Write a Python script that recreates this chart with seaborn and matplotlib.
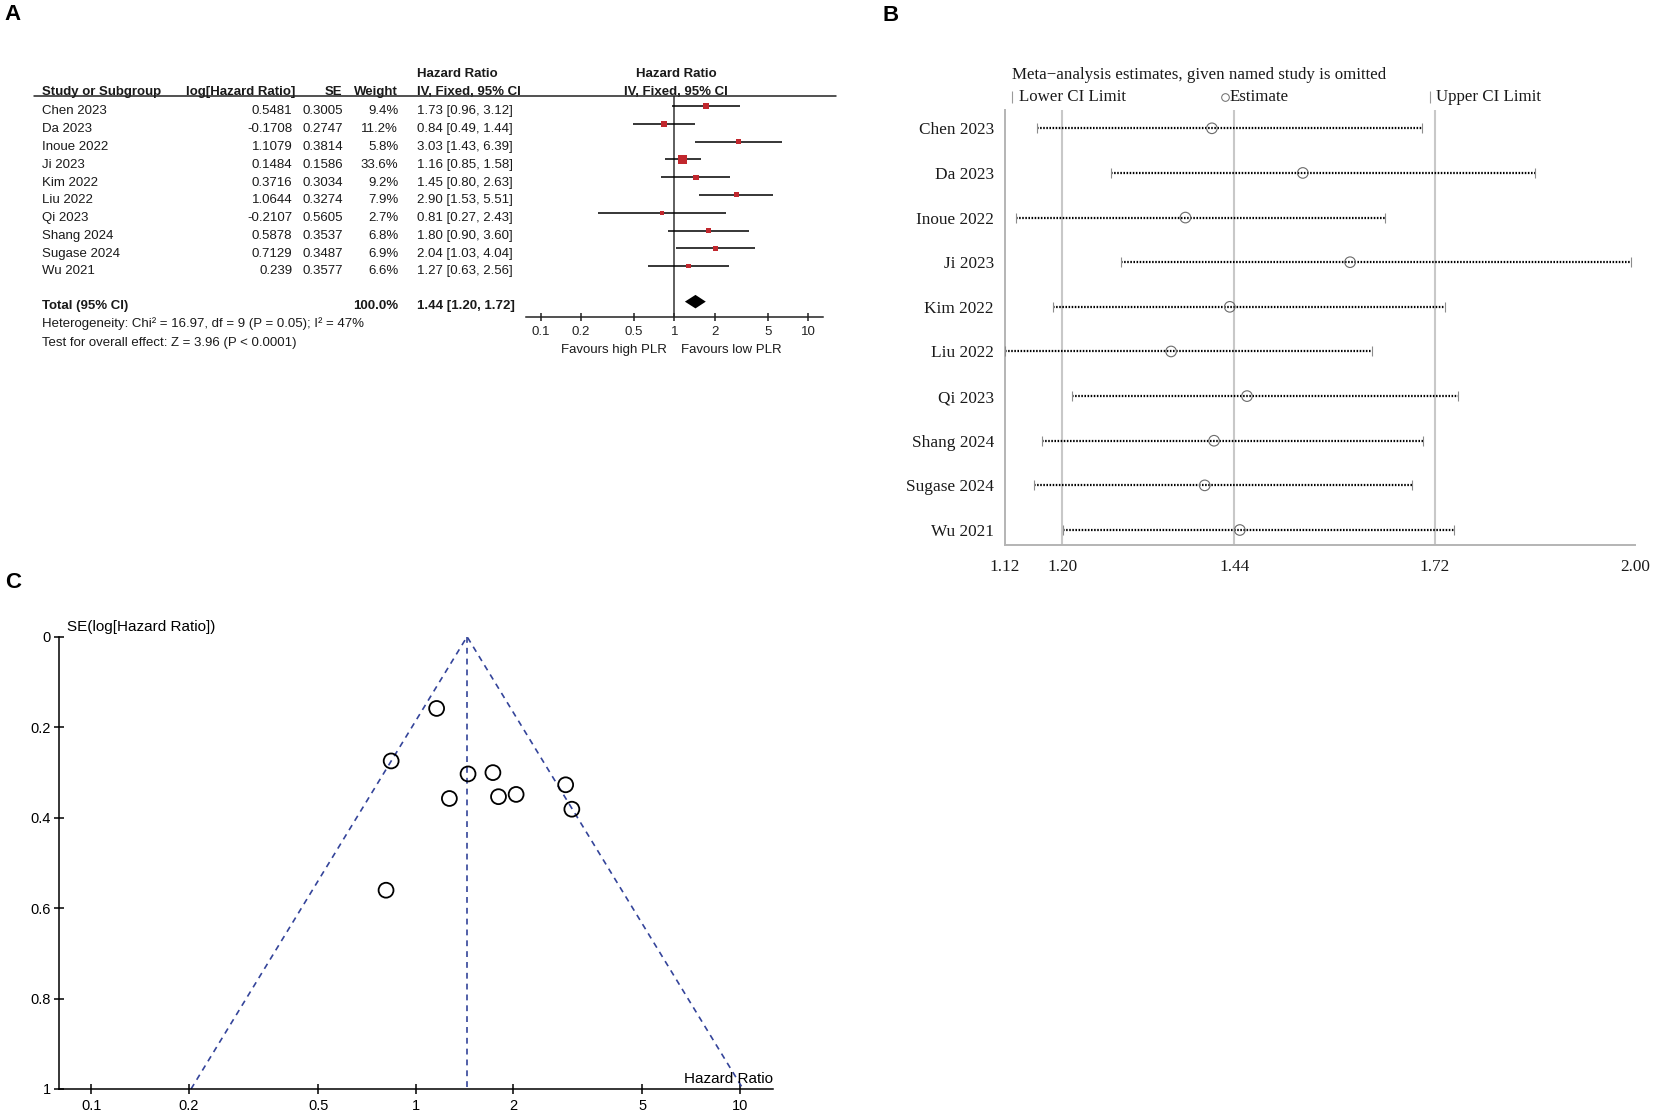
import matplotlib
matplotlib.use("Agg")
import matplotlib.pyplot as plt
import matplotlib.transforms as mtransforms
from matplotlib.lines import Line2D
from matplotlib.ticker import NullLocator, FixedLocator, FixedFormatter
import numpy as np
import seaborn as sns

# ---------------- data ----------------
studies = ["Chen 2023", "Da 2023", "Inoue 2022", "Ji 2023", "Kim 2022",
           "Liu 2022", "Qi 2023", "Shang 2024", "Sugase 2024", "Wu 2021"]
log_hr = [0.5481, -0.1708, 1.1079, 0.1484, 0.3716, 1.0644, -0.2107, 0.5878, 0.7129, 0.239]
se = [0.3005, 0.2747, 0.3814, 0.1586, 0.3034, 0.3274, 0.5605, 0.3537, 0.3487, 0.3577]
weight = [9.4, 11.2, 5.8, 33.6, 9.2, 7.9, 2.7, 6.8, 6.9, 6.6]
hr = [1.73, 0.84, 3.03, 1.16, 1.45, 2.90, 0.81, 1.80, 2.04, 1.27]
hr_lo = [0.96, 0.49, 1.43, 0.85, 0.80, 1.53, 0.27, 0.90, 1.03, 0.63]
hr_hi = [3.12, 1.44, 6.39, 1.58, 2.63, 5.51, 2.43, 3.60, 4.04, 2.56]
total_hr, total_lo, total_hi = 1.44, 1.20, 1.72
total_weight = 100.0
hetero_text = "Heterogeneity: Chi\u00b2 = 16.97, df = 9 (P = 0.05); I\u00b2 = 47%"
overall_text = "Test for overall effect: Z = 3.96 (P < 0.0001)"
forest_ticks = [0.1, 0.2, 0.5, 1, 2, 5, 10]
forest_ticklabels = ["0.1", "0.2", "0.5", "1", "2", "5", "10"]
favours_left = "Favours high PLR"
favours_right = "Favours low PLR"

# Panel B: leave-one-out estimates
loo_lo = [1.165, 1.268, 1.136, 1.282, 1.187, 1.120, 1.214, 1.171, 1.160, 1.201]
loo_est = [1.409, 1.536, 1.372, 1.602, 1.434, 1.352, 1.458, 1.412, 1.399, 1.448]
loo_hi = [1.702, 1.861, 1.651, 1.995, 1.734, 1.632, 1.753, 1.704, 1.688, 1.747]
b_ticks = [1.12, 1.20, 1.44, 1.72, 2.00]
b_ticklabels = ["1.12", "1.20", "1.44", "1.72", "2.00"]
b_grid = [1.20, 1.44, 1.72]

# Panel C: funnel plot
c_yticks = [0, 0.2, 0.4, 0.6, 0.8, 1]
c_yticklabels = ["0", "0.2", "0.4", "0.6", "0.8", "1"]
se_max = 1.0

# ---------------- setup ----------------
sns.set_style("white")
plt.rcParams["font.family"] = ["Liberation Sans", "DejaVu Sans"]
plt.rcParams["axes.unicode_minus"] = False

W, H = 1654, 1111
fig = plt.figure(figsize=(W / 100, H / 100), dpi=100)
fig.patch.set_facecolor("white")


def fx(px):
    return px / W


def fy(py):
    return 1 - py / H


def rect(l, t, r, b):
    return [fx(l), fy(b), fx(r) - fx(l), fy(t) - fy(b)]


SERIF = ["Liberation Serif", "DejaVu Serif"]
TXT = "#1a1a1a"

# ---------------- Panel A ----------------
axA = fig.add_axes(rect(526, 95.7, 823, 317.3))
axA.set_xscale("log")
axA.set_xlim(0.0776, 12.97)
axA.set_ylim(11.88, -0.58)
rows = np.arange(len(studies))
axA.axvline(1, color="#333333", lw=1.1, zorder=1)
axA.hlines(rows, hr_lo, hr_hi, color="black", lw=1.1, zorder=2)
axA.scatter(hr, rows, s=np.array(weight) * 1.15 + 4, marker="s", color="#c1272d",
            linewidths=0, zorder=3)
total_row = 11
axA.fill([total_lo, total_hr, total_hi, total_hr],
         [total_row, total_row - 0.38, total_row, total_row + 0.38],
         color="black", lw=0, zorder=3)
for s in ["top", "right", "left"]:
    axA.spines[s].set_visible(False)
axA.spines["bottom"].set_linewidth(1.1)
axA.spines["bottom"].set_color("#222222")
axA.set_yticks([])
axA.xaxis.set_major_locator(FixedLocator(forest_ticks))
axA.xaxis.set_major_formatter(FixedFormatter(forest_ticklabels))
axA.xaxis.set_minor_locator(NullLocator())
axA.tick_params(axis="x", bottom=True, direction="inout", length=6, width=1.1,
                pad=3.0, labelsize=9.5, colors="#222222")

tA = mtransforms.blended_transform_factory(fig.transFigure, axA.transData)
FS = 9.5


def ta(x, y, s, ha="left", bold=False):
    axA.text(fx(x), y, s, transform=tA, ha=ha, va="baseline", fontsize=FS,
             fontweight="bold" if bold else "normal", color=TXT)


# header
ta(416.7, -1.61, "Hazard Ratio", bold=True)
ta(676, -1.61, "Hazard Ratio", ha="center", bold=True)
ta(41.7, -0.64, "Study or Subgroup", bold=True)
ta(295, -0.64, "log[Hazard Ratio]", ha="right", bold=True)
ta(342.7, -0.64, "SE", ha="right", bold=True)
ta(398.3, -0.64, "Weight", ha="right", bold=True)
ta(416.7, -0.64, "IV, Fixed, 95% CI", bold=True)
ta(676, -0.64, "IV, Fixed, 95% CI", ha="center", bold=True)
fig.add_artist(Line2D([fx(34), fx(836)], [fy(95.7)] * 2, transform=fig.transFigure,
                      color="#222222", lw=1.1))

off = 0.47
for i, name in enumerate(studies):
    y = i + off
    ta(41.7, y, name)
    ta(292.3, y, str(log_hr[i]), ha="right")
    ta(342.7, y, str(se[i]), ha="right")
    ta(398.3, y, f"{weight[i]:.1f}%", ha="right")
    ta(416.7, y, f"{hr[i]:.2f} [{hr_lo[i]:.2f}, {hr_hi[i]:.2f}]")

ta(41.7, total_row + 0.4, "Total (95% CI)", bold=True)
ta(398.3, total_row + 0.4, f"{total_weight:.1f}%", ha="right", bold=True)
ta(416.7, total_row + 0.4, f"{total_hr:.2f} [{total_lo:.2f}, {total_hi:.2f}]", bold=True)
ta(41.7, 12.45, hetero_text)
ta(41.7, 13.5, overall_text)

axA.text(0.88, 13.89, favours_left, ha="right", va="baseline", fontsize=FS, color=TXT)
axA.text(1.13, 13.89, favours_right, ha="left", va="baseline", fontsize=FS, color=TXT)

# ---------------- Panel B ----------------
axB = fig.add_axes(rect(1005, 110, 1635, 545.4))
axB.set_xlim(1.12, 2.00)
axB.set_ylim(9.345, -0.41)
for g in b_grid:
    axB.axvline(g, color="#c8c8c8", lw=1.5, zorder=0)
for i in range(len(studies)):
    axB.plot([loo_lo[i], loo_hi[i]], [i, i], color="black", lw=1.6,
             linestyle=(0, (0.7, 0.7)), dash_capstyle="butt", zorder=2, clip_on=False)
axB.plot(loo_lo, rows, linestyle="none", marker="|", ms=7.5, mew=0.8, color="#8c8c8c",
         zorder=3, clip_on=False)
axB.plot(loo_hi, rows, linestyle="none", marker="|", ms=7.5, mew=0.8, color="#8c8c8c",
         zorder=3, clip_on=False)
sns.scatterplot(x=loo_est, y=rows, ax=axB, marker="o", s=58, zorder=4, legend=False)
cb = axB.collections[-1]
cb.set_facecolor("none")
cb.set_edgecolor("#6a6a6a")
cb.set_linewidth(0.8)
axB.set_xlabel("")
axB.set_ylabel("")
for s in ["top", "right"]:
    axB.spines[s].set_visible(False)
for s in ["left", "bottom"]:
    axB.spines[s].set_color("#b4b4b4")
    axB.spines[s].set_linewidth(1.4)
axB.set_yticks(rows)
axB.set_yticklabels(studies, fontfamily=SERIF, fontsize=12.4, color=TXT)
axB.set_xticks(b_ticks)
axB.set_xticklabels(b_ticklabels, fontfamily=SERIF, fontsize=12.4, color=TXT)
axB.tick_params(axis="y", left=False, length=0, pad=8)
axB.tick_params(axis="x", bottom=False, length=0, pad=9.5)

fig.text(fx(1011.7), fy(75), "Meta\u2212analysis estimates, given named study is omitted",
         ha="left", va="center", fontsize=12.2, family=SERIF, color=TXT)
fig.add_artist(Line2D([fx(1011.7)], [fy(96.7)], transform=fig.transFigure, marker="|",
                      ms=8, mew=0.8, color="#9a9a9a", linestyle="none"))
fig.text(fx(1019.3), fy(96.7), "Lower CI Limit", ha="left", va="center", fontsize=12.2,
         family=SERIF, color=TXT)
fig.add_artist(Line2D([fx(1224.5)], [fy(96.7)], transform=fig.transFigure, marker="o",
                      ms=5.5, mew=0.7, mfc="none", mec="#6a6a6a", linestyle="none"))
fig.text(fx(1229.8), fy(96.7), "Estimate", ha="left", va="center", fontsize=12.2,
         family=SERIF, color=TXT)
fig.add_artist(Line2D([fx(1430)], [fy(96.7)], transform=fig.transFigure, marker="|",
                      ms=8, mew=0.8, color="#9a9a9a", linestyle="none"))
fig.text(fx(1435.5), fy(96.7), "Upper CI Limit", ha="left", va="center", fontsize=12.2,
         family=SERIF, color=TXT)

# ---------------- Panel C ----------------
axC = fig.add_axes(rect(59.3, 636.7, 773, 1089))
axC.set_xscale("log")
axC.set_xlim(0.0796, 12.64)
axC.set_ylim(1, 0)
navy = "#34449a"
dash = (0, (3.5, 3.0))
axC.plot([total_hr, total_hr], [0, se_max], color=navy, lw=1.2, linestyle=dash, zorder=1)
axC.plot([total_hr * np.exp(-1.96 * se_max), total_hr, total_hr * np.exp(1.96 * se_max)],
         [se_max, 0, se_max], color=navy, lw=1.2, linestyle=dash, zorder=1, clip_on=False)
sns.scatterplot(x=hr, y=se, ax=axC, marker="o", s=115, zorder=3, legend=False)
cc = axC.collections[-1]
cc.set_facecolor("none")
cc.set_edgecolor("black")
cc.set_linewidth(1.3)
axC.set_xlabel("")
axC.set_ylabel("")
for s in ["top", "right"]:
    axC.spines[s].set_visible(False)
for s in ["left", "bottom"]:
    axC.spines[s].set_color("black")
    axC.spines[s].set_linewidth(1.1)
axC.xaxis.set_major_locator(FixedLocator(forest_ticks))
axC.xaxis.set_major_formatter(FixedFormatter(forest_ticklabels))
axC.xaxis.set_minor_locator(NullLocator())
axC.set_yticks(c_yticks)
axC.set_yticklabels(c_yticklabels)
axC.tick_params(axis="x", bottom=True, direction="inout", length=7, width=1.1, pad=4.0,
                labelsize=10.5, colors="black")
axC.tick_params(axis="y", left=True, direction="inout", length=7, width=1.1, pad=2.5,
                labelsize=10.5, colors="black")
fig.text(fx(66.7), fy(626.7), "SE(log[Hazard Ratio])", ha="left", va="center",
         fontsize=11, color="black")
fig.text(fx(772.7), fy(1079.3), "Hazard Ratio", ha="right", va="center",
         fontsize=11, color="black")

# ---------------- Panel letters ----------------
for lx, ly, lt in [(12.7, 14, "A"), (891, 15.5, "B"), (12.7, 583, "C")]:
    fig.text(fx(lx), fy(ly), lt, ha="center", va="center", fontsize=16,
             fontweight="bold", color="black")

fig.savefig("out.png", dpi=100, facecolor="white")
